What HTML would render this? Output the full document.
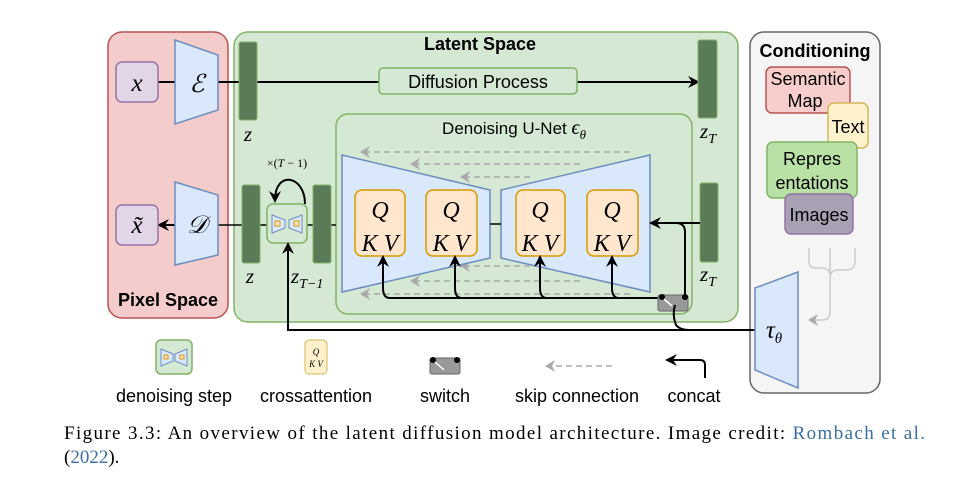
<!DOCTYPE html>
<html><head><style>body{margin:0;background:#fff}svg{display:block}</style></head><body>
<svg width="958" height="481" viewBox="0 0 958 481" xmlns="http://www.w3.org/2000/svg" font-family="Liberation Sans, sans-serif">
<defs>
<marker id="a" markerWidth="12" markerHeight="12" refX="9" refY="6" orient="auto" markerUnits="userSpaceOnUse"><path d="M0,0 L12,6 L0,12 L4,6z" fill="#000"/></marker>
<marker id="g" markerWidth="12" markerHeight="12" refX="8" refY="6" orient="auto" markerUnits="userSpaceOnUse"><path d="M0,0 L10,6 L0,12 L3,6z" fill="#aaa"/></marker>
</defs>
<rect x="108" y="32" width="120" height="286" rx="14" fill="#f4cccc" stroke="#b85450" stroke-width="1.5"/>
<rect x="234" y="32" width="504" height="290" rx="14" fill="#d5e8d4" stroke="#82b366" stroke-width="1.5"/>
<rect x="750" y="32" width="130" height="361" rx="14" fill="#f5f5f5" stroke="#666" stroke-width="1.5"/>
<text x="480" y="50" font-size="18" font-weight="bold" text-anchor="middle">Latent Space</text>
<text x="168" y="306" font-size="18" font-weight="bold" text-anchor="middle">Pixel Space</text>
<text x="815" y="57" font-size="18" font-weight="bold" text-anchor="middle">Conditioning</text>
<line x1="158" y1="82" x2="697" y2="82" stroke="#000" stroke-width="2" marker-end="url(#a)"/>
<rect x="116" y="62" width="42" height="40" rx="6" fill="#e1d5e7" stroke="#9673a6" stroke-width="1.5"/>
<text x="137" y="91" font-size="25" font-style="italic" font-family="Liberation Serif, serif" text-anchor="middle">x</text>
<path d="M175,40 L218,55 L218,110 L175,124z" fill="#dae8fc" stroke="#6c8ebf" stroke-width="1.5"/>
<text x="197" y="92" font-size="25" font-style="italic" font-family="Liberation Serif, serif" text-anchor="middle">ℰ</text>
<rect x="239" y="42" width="18" height="78" rx="2" fill="#5a7a58" stroke="#82b366"/>
<text x="248" y="141" font-size="21" font-style="italic" font-family="Liberation Serif, serif" text-anchor="middle">z</text>
<rect x="379" y="68" width="198" height="26" rx="4" fill="#d5e8d4" stroke="#82b366" stroke-width="1.5"/>
<text x="478" y="88" font-size="18" text-anchor="middle">Diffusion Process</text>
<rect x="698" y="40" width="19" height="78" rx="2" fill="#5a7a58" stroke="#82b366"/>
<text x="708" y="138" font-size="21" font-style="italic" font-family="Liberation Serif, serif" text-anchor="middle">z<tspan font-size="14" dy="5">T</tspan></text>
<rect x="336" y="114" width="356" height="200" rx="12" fill="#d5e8d4" stroke="#82b366" stroke-width="1.5"/>
<text x="514" y="134" font-size="17" text-anchor="middle">Denoising U-Net <tspan font-style="italic" font-family="Liberation Serif, serif" font-size="20">ϵ<tspan font-size="13" dy="5">θ</tspan></tspan></text>
<g stroke="#aaa" stroke-width="1.5" stroke-dasharray="6,4" fill="none">
<line x1="630" y1="152" x2="362" y2="152" marker-end="url(#g)"/>
<line x1="580" y1="164" x2="412" y2="164" marker-end="url(#g)"/>
<line x1="530" y1="177" x2="462" y2="177" marker-end="url(#g)"/>
<line x1="530" y1="266" x2="462" y2="266" marker-end="url(#g)"/>
<line x1="580" y1="281" x2="412" y2="281" marker-end="url(#g)"/>
<line x1="630" y1="294" x2="362" y2="294" marker-end="url(#g)"/>
</g>
<path d="M342,155 L490,190 L490,258 L342,292z" fill="#dae8fc" stroke="#6c8ebf" stroke-width="1.5"/>
<path d="M501,190 L650,155 L650,292 L501,258z" fill="#dae8fc" stroke="#6c8ebf" stroke-width="1.5"/>
<line x1="490" y1="224" x2="501" y2="224" stroke="#000" stroke-width="1.5"/>
<g fill="#ffe6cc" stroke="#d79b00" stroke-width="1.5">
<rect x="355" y="190" width="50" height="66" rx="7"/><rect x="426" y="190" width="51" height="66" rx="7"/>
<rect x="516" y="190" width="49" height="66" rx="7"/><rect x="587" y="190" width="51" height="66" rx="7"/>
</g>
<g font-family="Liberation Serif, serif" font-style="italic" font-size="24" text-anchor="middle">
<text x="380" y="218">Q</text><text x="380" y="251">K V</text>
<text x="451" y="218">Q</text><text x="451" y="251">K V</text>
<text x="540" y="218">Q</text><text x="540" y="251">K V</text>
<text x="612" y="218">Q</text><text x="612" y="251">K V</text>
</g>
<line x1="218" y1="225" x2="336" y2="225" stroke="#000" stroke-width="1.5"/>
<line x1="175" y1="225" x2="160" y2="225" stroke="#000" stroke-width="2" marker-end="url(#a)"/>
<rect x="116" y="205" width="42" height="40" rx="6" fill="#e1d5e7" stroke="#9673a6" stroke-width="1.5"/>
<text x="137" y="233" font-size="25" font-style="italic" font-family="Liberation Serif, serif" text-anchor="middle">x̃</text>
<path d="M175,182 L218,195 L218,255 L175,265z" fill="#dae8fc" stroke="#6c8ebf" stroke-width="1.5"/>
<text x="197" y="233" font-size="25" font-style="italic" font-family="Liberation Serif, serif" text-anchor="middle">𝒟</text>
<rect x="242" y="185" width="18" height="78" rx="2" fill="#5a7a58" stroke="#82b366"/>
<text x="250" y="283" font-size="21" font-style="italic" font-family="Liberation Serif, serif" text-anchor="middle">z</text>
<rect x="313" y="185" width="18" height="78" rx="2" fill="#5a7a58" stroke="#82b366"/>
<text x="291" y="283" font-size="21" font-style="italic" font-family="Liberation Serif, serif">z<tspan font-size="14" dy="5">T−1</tspan></text>
<rect x="267" y="204" width="40" height="39" rx="6" fill="#d5e8d4" stroke="#82b366" stroke-width="1.5"/>
<path d="M272,215 L285,220 L285,228 L272,233z M302,215 L289,220 L289,228 L302,233z" fill="#dae8fc" stroke="#6c8ebf"/>
<rect x="275" y="221" width="5" height="5" fill="#ffe6cc" stroke="#d79b00"/><rect x="294" y="221" width="5" height="5" fill="#ffe6cc" stroke="#d79b00"/>
<path d="M305,204 C305,175 275,170 275,200" fill="none" stroke="#000" stroke-width="2" marker-end="url(#a)"/>
<text x="287" y="167" font-size="12" font-family="Liberation Serif, serif" text-anchor="middle">×(<tspan font-style="italic">T</tspan> − 1)</text>
<rect x="700" y="183" width="18" height="79" rx="2" fill="#5a7a58" stroke="#82b366"/>
<text x="708" y="281" font-size="21" font-style="italic" font-family="Liberation Serif, serif" text-anchor="middle">z<tspan font-size="14" dy="5">T</tspan></text>
<path d="M700,223 L652,223" stroke="#000" stroke-width="2" fill="none" marker-end="url(#a)"/>
<path d="M685,300 L685,232 Q685,223 676,223" stroke="#000" stroke-width="2" fill="none"/>
<path d="M660,298 L390,298 Q383,298 383,288 L383,258" stroke="#000" stroke-width="2" fill="none" marker-end="url(#a)"/>
<path d="M462,298 Q455,298 455,288 L455,258" stroke="#000" stroke-width="2" fill="none" marker-end="url(#a)"/>
<path d="M547,298 Q540,298 540,288 L540,258" stroke="#000" stroke-width="2" fill="none" marker-end="url(#a)"/>
<path d="M619,298 Q612,298 612,288 L612,258" stroke="#000" stroke-width="2" fill="none" marker-end="url(#a)"/>
<rect x="658" y="295" width="30" height="16" rx="2" fill="#999" stroke="#666"/>
<circle cx="662" cy="297" r="3" fill="#000"/><circle cx="685" cy="297" r="3" fill="#000"/>
<line x1="664" y1="299" x2="672" y2="306" stroke="#fff" stroke-width="1.5"/>
<path d="M757,330 L288,330 L288,245" stroke="#000" stroke-width="2" fill="none" marker-end="url(#a)"/>
<path d="M675,305 Q672,315 676,325 Q680,330 690,330" stroke="#000" stroke-width="2" fill="none"/>
<rect x="766" y="67" width="84" height="46" rx="6" fill="#f8cecc" stroke="#b85450" stroke-width="1.5"/>
<text x="808" y="85" font-size="18" text-anchor="middle">Semantic</text><text x="805" y="107" font-size="18" text-anchor="middle">Map</text>
<rect x="828" y="103" width="40" height="45" rx="6" fill="#fff2cc" stroke="#d6b656" stroke-width="1.5"/>
<text x="848" y="133" font-size="18" text-anchor="middle">Text</text>
<rect x="767" y="142" width="90" height="56" rx="6" fill="#b9e0a5" stroke="#82b366" stroke-width="1.5"/>
<text x="812" y="165" font-size="18" text-anchor="middle">Repres</text><text x="812" y="189" font-size="18" text-anchor="middle">entations</text>
<rect x="785" y="194" width="68" height="40" rx="6" fill="#a9a0b4" stroke="#9673a6" stroke-width="1.5"/>
<text x="819" y="221" font-size="18" text-anchor="middle">Images</text>
<path d="M809,248 L809,262 Q809,268 816,268 L822,268 Q830,268 830,276 L830,312 Q830,320 822,320 L810,320 M830,248 L830,276 M855,248 L855,262 Q855,270 846,270 L838,270 Q830,270 830,278" stroke="#ccc" stroke-width="1.5" fill="none"/>
<path d="M820,320 L810,320" stroke="#ccc" stroke-width="1.5" marker-end="url(#g)"/>
<path d="M755,288 L798,272 L798,388 L755,370z" fill="#dae8fc" stroke="#6c8ebf" stroke-width="1.5"/>
<text x="774" y="338" font-size="25" font-style="italic" font-family="Liberation Serif, serif" text-anchor="middle">τ<tspan font-size="15" dy="5">θ</tspan></text>
<rect x="156" y="340" width="36" height="34" rx="5" fill="#d5e8d4" stroke="#82b366" stroke-width="1.5"/>
<path d="M161,349 L173,354 L173,361 L161,366z M187,349 L175,354 L175,361 L187,366z" fill="#dae8fc" stroke="#6c8ebf"/>
<rect x="164" y="355" width="4" height="4" fill="#ffe6cc" stroke="#d79b00"/><rect x="180" y="355" width="4" height="4" fill="#ffe6cc" stroke="#d79b00"/>
<text x="174" y="402" font-size="18" text-anchor="middle">denoising step</text>
<rect x="305" y="340" width="22" height="34" rx="4" fill="#fff2cc" stroke="#d6b656"/>
<text x="316" y="355" font-size="9" font-style="italic" font-family="Liberation Serif, serif" text-anchor="middle">Q</text>
<text x="316" y="367" font-size="9" font-style="italic" font-family="Liberation Serif, serif" text-anchor="middle">K V</text>
<text x="316" y="402" font-size="18" text-anchor="middle">crossattention</text>
<rect x="430" y="358" width="30" height="16" rx="2" fill="#999" stroke="#666"/>
<circle cx="433" cy="360" r="3" fill="#000"/><circle cx="457" cy="360" r="3" fill="#000"/>
<line x1="435" y1="362" x2="444" y2="370" stroke="#fff" stroke-width="1.5"/>
<text x="445" y="402" font-size="18" text-anchor="middle">switch</text>
<line x1="612" y1="366" x2="547" y2="366" stroke="#aaa" stroke-width="1.5" stroke-dasharray="6,4" marker-end="url(#g)"/>
<text x="577" y="402" font-size="18" text-anchor="middle">skip connection</text>
<path d="M705,378 L705,365 Q705,360 700,360 L668,360" stroke="#000" stroke-width="2" fill="none" marker-end="url(#a)"/>
<text x="694" y="402" font-size="18" text-anchor="middle">concat</text>
<text x="64" y="439" font-size="19" font-family="Liberation Serif, serif" textLength="861" lengthAdjust="spacing">Figure 3.3:  An overview of the latent diffusion model architecture.  Image credit: <tspan fill="#3a6ea5">Rombach et al.</tspan></text>
<text x="64" y="463" font-size="19" font-family="Liberation Serif, serif">(<tspan fill="#3a6ea5">2022</tspan>).</text>
</svg>
</body></html>
